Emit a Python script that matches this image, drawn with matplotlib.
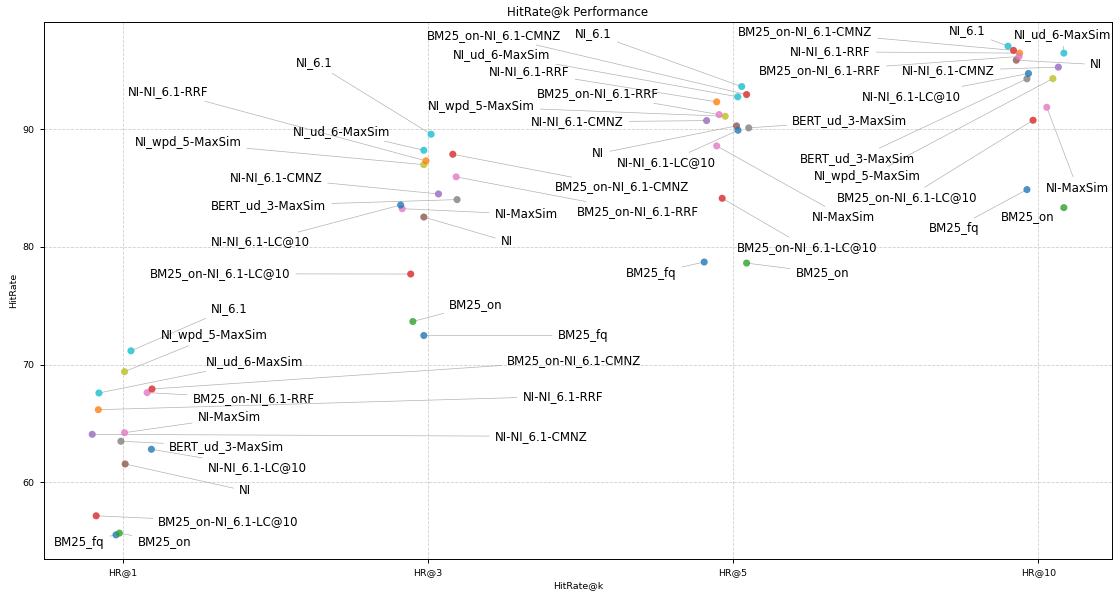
import matplotlib
matplotlib.use("Agg")
import matplotlib.pyplot as plt
import numpy as np

# ---------------- data ----------------
k_labels = ["HR@1", "HR@3", "HR@5", "HR@10"]
methods = [
    "BM25_fq", "BM25_on", "NI", "NI_6.1", "NI-MaxSim", "NI_wpd_5-MaxSim",
    "NI_ud_6-MaxSim", "BERT_ud_3-MaxSim", "NI-NI_6.1-RRF", "NI-NI_6.1-CMNZ",
    "NI-NI_6.1-LC@10", "BM25_on-NI_6.1-RRF", "BM25_on-NI_6.1-CMNZ",
    "BM25_on-NI_6.1-LC@10",
]
hr1 = [55.54, 55.69, 61.56, 71.17, 64.22, 69.40, 67.59, 63.49, 66.17, 64.08, 62.81, 67.62, 67.93, 57.16]
hr3 = [72.47, 73.66, 82.53, 89.56, 83.24, 86.98, 88.20, 84.01, 87.30, 84.49, 83.55, 85.94, 87.86, 77.69]
hr5 = [78.71, 78.62, 90.27, 93.61, 88.57, 91.09, 92.74, 90.10, 92.31, 90.72, 89.90, 91.23, 92.93, 84.12]
hr10 = [84.86, 83.33, 95.85, 97.04, 91.85, 94.29, 96.45, 94.27, 96.45, 95.26, 94.72, 96.16, 96.68, 90.75]

# ---------------- styling / layout ----------------
colors = ["#1f77b4", "#2ca02c", "#8c564b", "#17becf", "#e377c2", "#bcbd22",
          "#17becf", "#7f7f7f", "#ff7f0e", "#9467bd", "#1f77b4", "#e377c2",
          "#d62728", "#d62728"]

# horizontal jitter of each point around its category
jit1 = [-0.023, -0.012, 0.007, 0.026, 0.005, 0.005, -0.079, -0.007, -0.081, -0.101, 0.093, 0.079, 0.095, -0.088]
jit3 = [-0.014, -0.050, -0.014, 0.010, -0.085, -0.014, -0.014, 0.095, -0.007, 0.034, -0.090, 0.092, 0.081, -0.057]
jit5 = [-0.095, 0.044, 0.011, 0.028, -0.054, -0.026, 0.015, 0.051, -0.054, -0.087, 0.016, -0.046, 0.044, -0.036]
jit10 = [-0.037, 0.084, -0.072, -0.099, 0.028, 0.048, 0.084, -0.037, -0.061, 0.066, -0.032, -0.063, -0.081, -0.017]

# label positions (data coords) per category
lab1 = [(-0.144, 54.90), (0.135, 54.98), (0.400, 59.29), (0.349, 74.80), (0.348, 65.49),
        (0.298, 72.47), (0.431, 70.26), (0.339, 63.06), (1.441, 67.31), (1.371, 63.91),
        (0.441, 61.28), (0.428, 67.14), (1.478, 70.34), (0.346, 56.65)]
lab3 = [(1.508, 72.47), (1.157, 75.08), (1.258, 80.46), (0.628, 95.65), (1.321, 82.76),
        (0.213, 88.83), (0.716, 89.81), (0.477, 83.52), (0.147, 93.21), (0.501, 85.85),
        (0.450, 80.41), (1.687, 83.01), (1.637, 85.09), (0.318, 77.71)]
lab5 = [(1.731, 77.71), (2.293, 77.80), (1.558, 87.92), (1.542, 98.12), (2.363, 82.53),
        (1.174, 91.89), (1.241, 96.34), (2.382, 90.70), (1.332, 94.86), (1.489, 90.61),
        (1.780, 87.13), (1.555, 93.02), (1.217, 97.98), (2.243, 79.92)]
lab10 = [(2.725, 81.54), (2.966, 82.59), (3.190, 95.48), (2.768, 98.33), (3.129, 84.94),
         (2.441, 85.94), (3.079, 98.06), (2.406, 87.49), (2.319, 96.56), (2.706, 94.95),
         (2.585, 92.79), (2.284, 94.95), (2.235, 98.27), (2.571, 84.15)]

series = [hr1, hr3, hr5, hr10]
jitters = [jit1, jit3, jit5, jit10]
labels_pos = [lab1, lab3, lab5, lab10]

# ---------------- plot ----------------
fig = plt.figure(figsize=(11.13, 5.92), dpi=100)
ax = fig.add_axes([0.0392, 0.0552, 0.9603, 0.9081])

for ci, (vals, jit, labp) in enumerate(zip(series, jitters, labels_pos)):
    xs = ci + np.array(jit)
    ax.scatter(xs, vals, s=26, c=colors, alpha=0.8, zorder=3, linewidths=0)
    for mi, name in enumerate(methods):
        ax.annotate(name, xy=(xs[mi], vals[mi]), xytext=labp[mi],
                    textcoords="data", ha="center", va="center",
                    fontsize=8.5, color="black", zorder=2, annotation_clip=False,
                    arrowprops=dict(arrowstyle="-", color="gray", lw=0.5, alpha=0.6))

ax.set_xticks(range(len(k_labels)))
ax.set_xticklabels(k_labels)
ax.set_yticks([60, 70, 80, 90])
ax.tick_params(labelsize=6.8, length=3, width=0.7)
for sp in ax.spines.values():
    sp.set_linewidth(0.7)
ax.grid(True, linestyle="--", alpha=0.6, linewidth=0.6)
ax.set_axisbelow(True)
ax.set_xlabel("HitRate@k", fontsize=6.8, labelpad=3)
ax.set_ylabel("HitRate", fontsize=6.8, labelpad=3)
ax.set_title("HitRate@k Performance", fontsize=8.5, pad=5)

fig.savefig("out.png", dpi=100)
